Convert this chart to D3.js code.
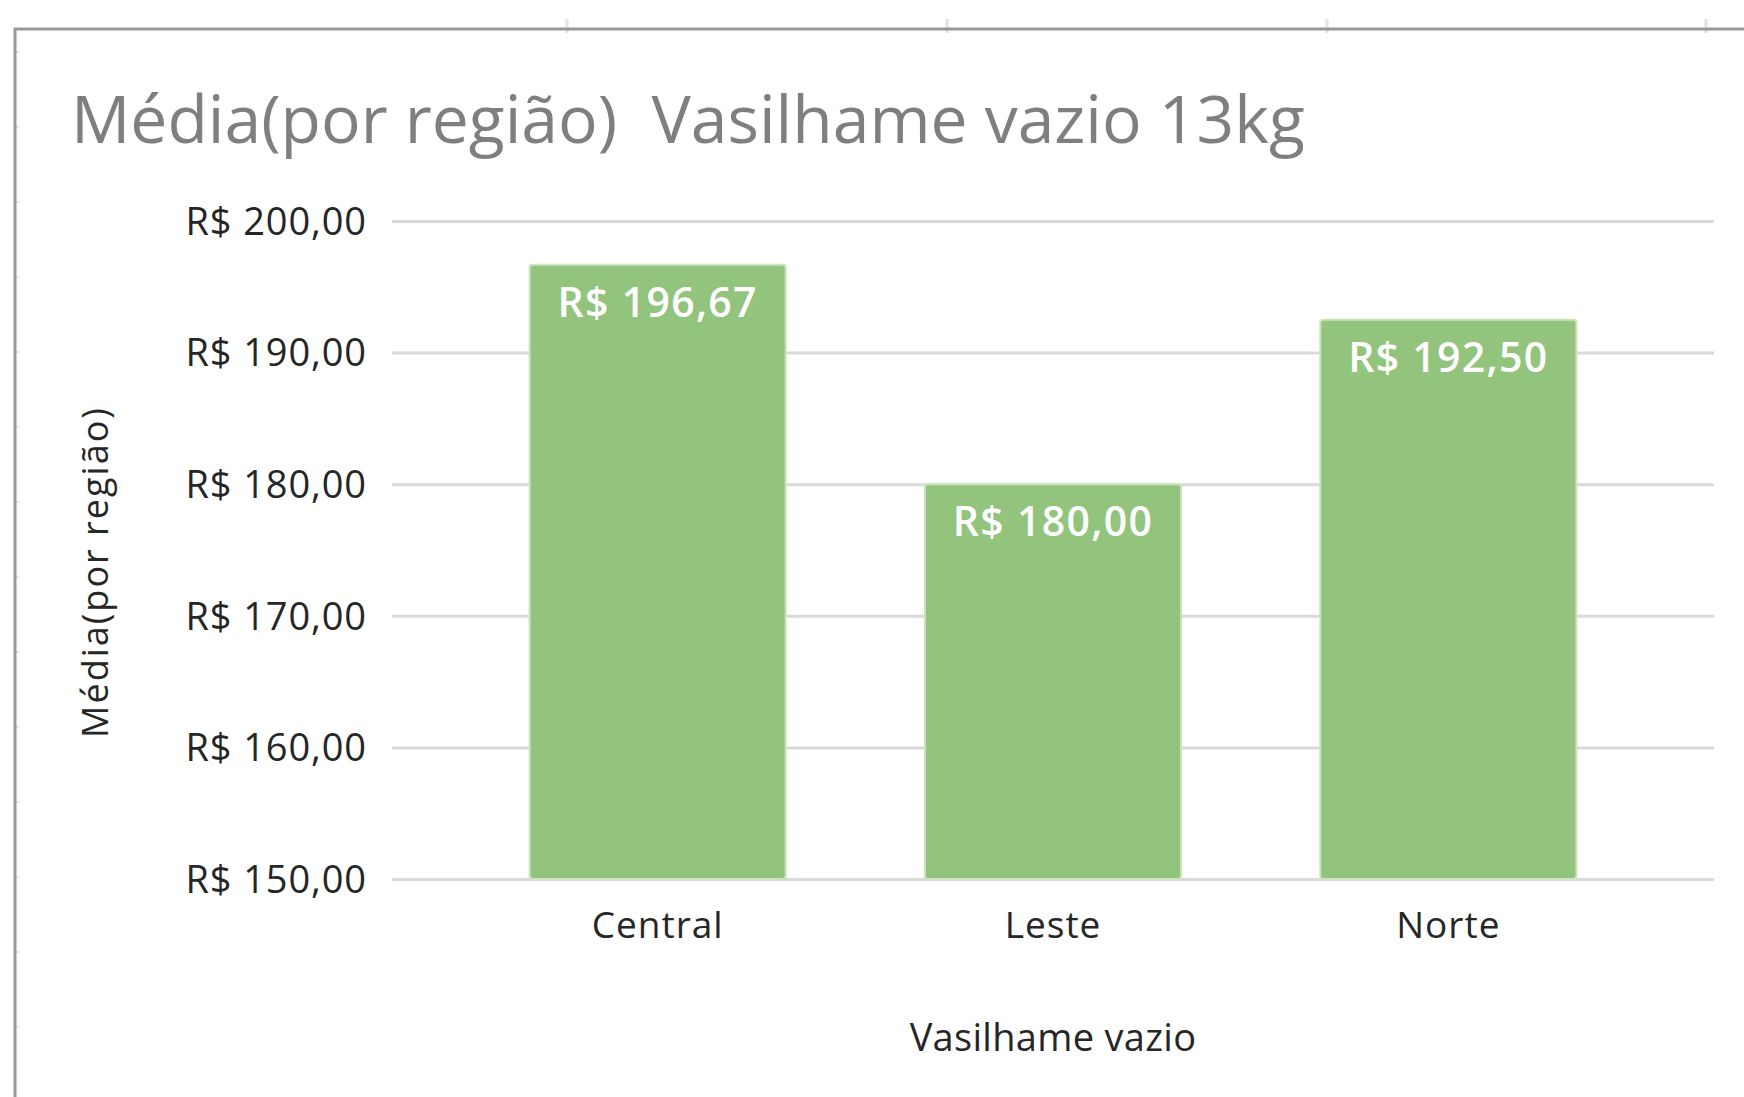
<!DOCTYPE html>
<html>
<head>
<meta charset="utf-8">
<script src="https://cdn.jsdelivr.net/npm/d3@7"></script>
<style>
    body { margin: 0; background: #fff; }
    text { font-family: "Open Sans", sans-serif; }
</style>
</head>
<body>
<div id="chart"></div>
<script>
var regions = ["Central", "Leste", "Norte"];
var averages = [196.67, 180.00, 192.50];
var yTicks = [150, 160, 170, 180, 190, 200];
var title = "Média(por região)  Vasilhame vazio 13kg";
var xTitle = "Vasilhame vazio";
var yTitle = "Média(por região)";

var width = 1744,
    height = 1097;

var br = d3.formatLocale({ decimal: ",", thousands: ".", grouping: [3], currency: ["R$ ", ""] });
var money = br.format("$,.2f");

var svg = d3.select("#chart").append("svg")
    .attr("width", width)
    .attr("height", height);

// frame of the spreadsheet chart object
var frame = svg.append("g");
[567, 947, 1327, 1706].forEach(function(x) {
    frame.append("line").attr("x1", x).attr("x2", x).attr("y1", 19).attr("y2", 33)
        .attr("stroke", "#e2e2e2").attr("stroke-width", 3);
});
d3.range(52, height, 75).forEach(function(y) {
    frame.append("line").attr("x1", 15).attr("x2", 19).attr("y1", y).attr("y2", y)
        .attr("stroke", "#e2e2e2").attr("stroke-width", 2);
});
frame.append("line").attr("x1", 14).attr("x2", width).attr("y1", 29).attr("y2", 29)
    .attr("stroke", "#999").attr("stroke-width", 3);
frame.append("line").attr("x1", 15).attr("x2", 15).attr("y1", 28).attr("y2", height)
    .attr("stroke", "#999").attr("stroke-width", 3);

var x = d3.scaleBand()
    .domain(regions)
    .range([392, 1714])
    .paddingInner(0.352)
    .paddingOuter(0.348);

var y = d3.scaleLinear()
    .domain([150, 200])
    .range([879, 221]);

var yAxis = svg.append("g")
    .attr("transform", "translate(392,0)")
    .call(d3.axisLeft(y).tickValues(yTicks).tickSize(-(1714 - 392)).tickPadding(25).tickFormat(money));
yAxis.select(".domain").remove();
yAxis.selectAll(".tick line").attr("stroke", "#d9d9d9").attr("stroke-width", 3);
yAxis.selectAll(".tick text")
    .attr("fill", "#262626")
    .style("font-size", "38px")
    .style("letter-spacing", "0.9px")
    .attr("dy", "0.35em");

svg.append("g").selectAll("rect")
    .data(averages)
    .enter().append("rect")
    .attr("x", function(d, i) { return x(regions[i]); })
    .attr("y", function(d) { return y(d); })
    .attr("width", x.bandwidth())
    .attr("height", function(d) { return y(150) - y(d); })
    .attr("rx", 3)
    .attr("fill", "#93c47d")
    .attr("stroke", "#cde4c0")
    .attr("stroke-width", 2);

svg.append("g").selectAll("text")
    .data(averages)
    .enter().append("text")
    .attr("x", function(d, i) { return x(regions[i]) + x.bandwidth() / 2; })
    .attr("y", function(d) { return y(d) + 52; })
    .attr("text-anchor", "middle")
    .attr("fill", "#fff")
    .style("font-size", "41px")
    .style("font-weight", "600")
    .style("letter-spacing", "1.3px")
    .text(function(d) { return money(d); });

svg.append("g").selectAll("text")
    .data(regions)
    .enter().append("text")
    .attr("x", function(d) { return x(d) + x.bandwidth() / 2; })
    .attr("y", 938)
    .attr("text-anchor", "middle")
    .attr("fill", "#262626")
    .style("font-size", "37px")
    .style("letter-spacing", "1px")
    .text(function(d) { return d; });

svg.append("text")
    .attr("x", 1053)
    .attr("y", 1051)
    .attr("text-anchor", "middle")
    .attr("fill", "#262626")
    .style("font-size", "38px")
    .style("letter-spacing", "0.3px")
    .text(xTitle);

svg.append("text")
    .attr("transform", "translate(108,572)rotate(-90)")
    .attr("text-anchor", "middle")
    .attr("fill", "#262626")
    .style("font-size", "36px")
    .style("letter-spacing", "2px")
    .text(yTitle);

svg.append("text")
    .attr("x", 71)
    .attr("y", 143)
    .attr("fill", "#7f7f7f")
    .style("font-size", "66px")
    .style("white-space", "pre")
    .text(title);
</script>
</body>
</html>
